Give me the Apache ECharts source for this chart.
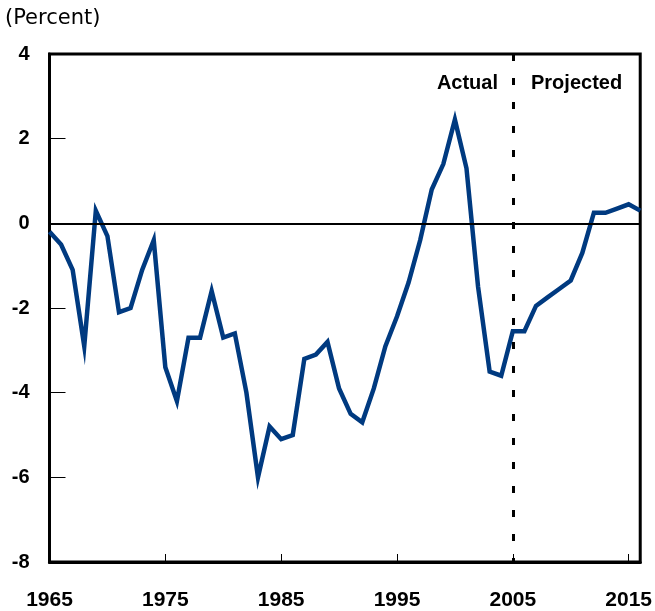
<!DOCTYPE html>
<html>
<head>
<meta charset="utf-8">
<script src="https://cdn.jsdelivr.net/npm/echarts@6/dist/echarts.min.js"></script>
<style>html,body{margin:0;padding:0;background:#fff;}#c{width:655px;height:611px;}</style>
</head>
<body>
<div id="c"></div>
<script>
const years = [1965,1966,1967,1968,1969,1970,1971,1972,1973,1974,1975,1976,1977,1978,1979,1980,1981,1982,1983,1984,1985,1986,1987,1988,1989,1990,1991,1992,1993,1994,1995,1996,1997,1998,1999,2000,2001,2002,2003,2004,2005,2006,2007,2008,2009,2010,2011,2012,2013,2014,2015,2016];
const values = [-0.2,-0.5,-1.1,-2.9,0.3,-0.3,-2.1,-2.0,-1.1,-0.4,-3.4,-4.2,-2.7,-2.7,-1.6,-2.7,-2.6,-4.0,-6.0,-4.8,-5.1,-5.0,-3.2,-3.1,-2.8,-3.9,-4.5,-4.7,-3.9,-2.9,-2.2,-1.4,-0.4,0.8,1.4,2.45,1.3,-1.5,-3.5,-3.6,-2.55,-2.55,-1.95,-1.75,-1.55,-1.35,-0.7,0.25,0.25,0.35,0.45,0.3];
const xTickLabels = [1965,1975,1985,1995,2005,2015];
const yTickLabels = [-8,-6,-4,-2,0,2,4];
const splitYear = 2005;
const annotations = ['Actual','Projected'];

const chart = echarts.init(document.getElementById('c'), null, {renderer:'canvas'});
const numFont = 'Liberation Sans, Arial, sans-serif';
chart.setOption({
  animation:false,
  backgroundColor:'#fff',
  grid:{left:49.5, right:12, top:54, bottom:48, show:true, borderColor:'#000', borderWidth:3, backgroundColor:'transparent'},
  xAxis:{
    type:'value', min:1965, max:2016, interval:10,
    axisLine:{show:true, onZero:false, lineStyle:{color:'#000', width:3}},
    axisTick:{show:true, inside:true, length:8, lineStyle:{color:'#000', width:1}},
    splitLine:{show:false},
    axisLabel:{
      margin:28, color:'#000', fontSize:21, fontWeight:'bold', fontFamily:numFont,
      formatter:function(v){ return xTickLabels.indexOf(v) >= 0 ? String(v) : ''; },
      showMaxLabel:true
    }
  },
  yAxis:{
    type:'value', min:-8, max:4, interval:2,
    axisLine:{show:true, onZero:false, lineStyle:{color:'#000', width:3}},
    axisTick:{show:true, inside:true, length:16, lineStyle:{color:'#000', width:1}},
    splitLine:{show:false},
    axisLabel:{
      margin:20, color:'#000', fontSize:20, fontWeight:'bold', fontFamily:numFont,
      formatter:function(v){ return yTickLabels.indexOf(v) >= 0 ? String(v) : ''; }
    }
  },
  graphic:[
    {type:'text', left:5, top:8, style:{text:'(Percent)', fill:'#000', font:'21px "DejaVu Sans", sans-serif'}},
    {type:'text', right:157, top:73, style:{text:annotations[0], fill:'#000', font:'bold 20px "Liberation Sans", Arial, sans-serif'}},
    {type:'text', left:531, top:73, style:{text:annotations[1], fill:'#000', font:'bold 20px "Liberation Sans", Arial, sans-serif'}}
  ],
  series:[{
    type:'line',
    data:years.map((y,i)=>[y, values[i]]),
    showSymbol:false,
    symbol:'none',
    lineStyle:{color:'#003a80', width:4.5, join:'miter'},
    clip:true,
    markLine:{
      silent:true, symbol:['none','none'], animation:false,
      label:{show:false},
      data:[
        {yAxis:0, lineStyle:{color:'#000', width:2, type:'solid'}},
        {xAxis:splitYear, lineStyle:{color:'#000', width:3, type:[7,17], dashOffset:3}}
      ]
    },
    z:3
  }]
});
</script>
</body>
</html>
